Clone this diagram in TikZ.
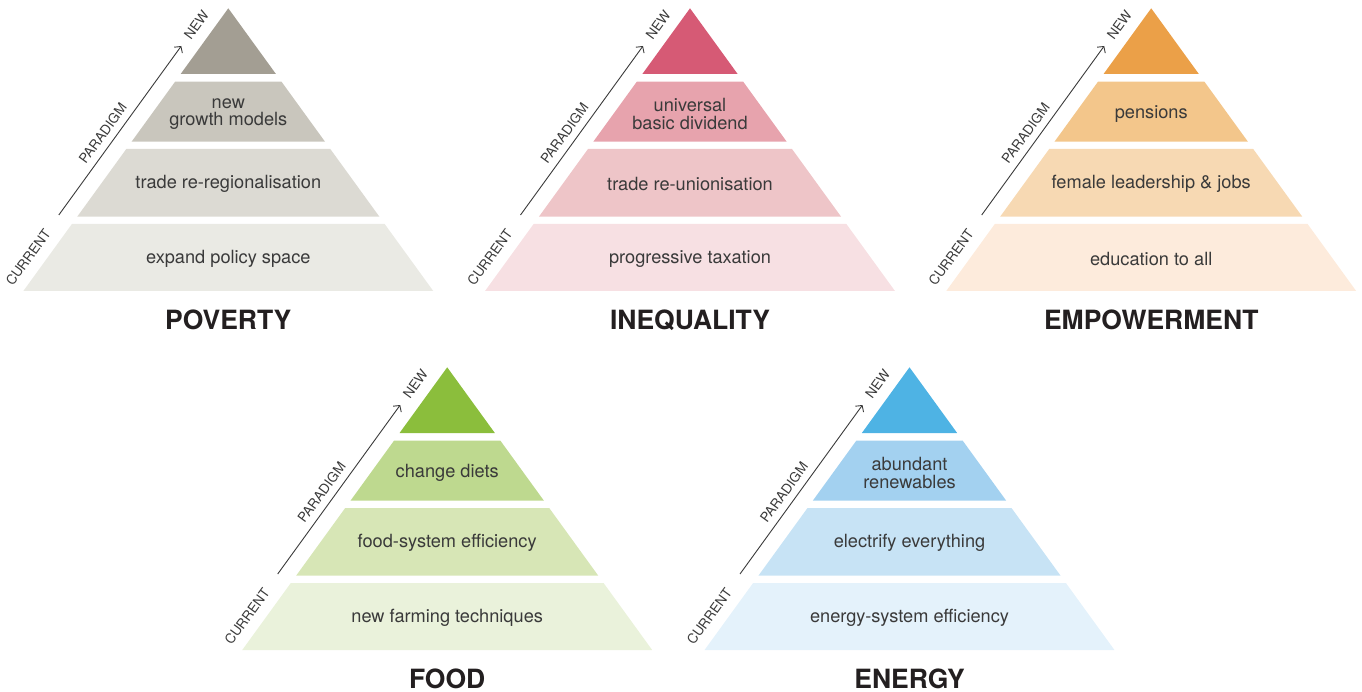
\documentclass[tikz,border=0pt]{standalone}
\usepackage{fontspec}
\setmainfont{TeX Gyre Heros}
\usetikzlibrary{calc,arrows.meta}
\definecolor{pov1}{HTML}{A39E93}
\definecolor{pov2}{HTML}{C9C6BD}
\definecolor{pov3}{HTML}{DCDAD3}
\definecolor{pov4}{HTML}{EAEAE4}
\definecolor{ineq1}{HTML}{D65A75}
\definecolor{ineq2}{HTML}{E7A3AD}
\definecolor{ineq3}{HTML}{EEC5C8}
\definecolor{ineq4}{HTML}{F7E0E3}
\definecolor{emp1}{HTML}{EBA048}
\definecolor{emp2}{HTML}{F3C68B}
\definecolor{emp3}{HTML}{F7D9B3}
\definecolor{emp4}{HTML}{FDEBDC}
\definecolor{food1}{HTML}{8BBE3C}
\definecolor{food2}{HTML}{BED98F}
\definecolor{food3}{HTML}{D7E6B6}
\definecolor{food4}{HTML}{EAF2DB}
\definecolor{nrg1}{HTML}{4EB3E4}
\definecolor{nrg2}{HTML}{A3D1F0}
\definecolor{nrg3}{HTML}{C7E3F5}
\definecolor{nrg4}{HTML}{E4F2FB}
\definecolor{txtgrey}{HTML}{3A3A3A}
\definecolor{ttlblack}{HTML}{231F20}
\tikzstyle{tier}=[font=\fontsize{18.2}{17.5}\selectfont, text=txtgrey, align=center, inner sep=0pt]
\tikzstyle{side}=[font=\fontsize{13.5}{15}\selectfont, text=txtgrey, rotate=54, inner sep=0pt]
\tikzstyle{ttl}=[font=\fontsize{26.5}{30}\selectfont\bfseries, text=ttlblack, anchor=base, text depth=0pt, inner sep=0pt]
\tikzstyle{shift>}=[draw=txtgrey, line width=0.9pt, -{Straight Barb[length=4.5pt,width=10pt]}]

\begin{document}
\begin{tikzpicture}[x=1pt, y=-1pt]
\useasboundingbox (0,0) rectangle (1362,692);
\foreach \n/\cx/\ty/\ta/\tb/\tc/\name in {
  pov/228.3/8.3/{new\\growth models}/trade re-regionalisation/expand policy space/POVERTY,
  ineq/690/8.3/{universal\\basic dividend}/trade re-unionisation/progressive taxation/INEQUALITY,
  emp/1151.2/8.3/pensions/female leadership \& jobs/education to all/EMPOWERMENT,
  food/447.2/367.3/change diets/food-system efficiency/new farming techniques/FOOD,
  nrg/909.5/367.3/{abundant\\renewables}/electrify everything/energy-system efficiency/ENERGY} {
 \coordinate (apex\n) at (\cx,\ty);
 % four bands of the pyramid, top to bottom
 \foreach \k/\a/\b in {1/0/65.7, 2/73.4/133.4, 3/140.7/208.4, 4/215.7/282.7}
   \fill[fill=\n\k] ($(apex\n)+(-0.725*\a,\a)$) -- ($(apex\n)+(0.725*\a,\a)$)
     -- ($(apex\n)+(0.725*\b,\b)$) -- ($(apex\n)+(-0.725*\b,\b)$) -- cycle;
 \node[tier] (t2\n) at ($(apex\n)+(0,105.8)$) {\ta};
 \node[tier] (t3\n) at ($(apex\n)+(0,176)$) {\tb};
 \node[tier] (t4\n) at ($(apex\n)+(0,251)$) {\tc};
 % paradigm arrow
 \coordinate (s\n) at ($(apex\n)+(-169.5,206.7)$);
 \coordinate (e\n) at ($(apex\n)+(-47,37.7)$);
 \draw[shift>] (s\n) -- (e\n);
 \node[side] (cur\n) at ($(s\n)!-0.25!(e\n)$) {CURRENT};
 \node[side] (new\n) at ($(s\n)!1.124!(e\n)$) {NEW};
 \node[side, anchor=south, inner ysep=7pt] (par\n) at ($(s\n)!0.44!(e\n)$) {PARADIGM};
 \node[ttl] (ttl\n) at ($(apex\n)+(0,321.5)$) {\name};
}
\end{tikzpicture}
\end{document}
